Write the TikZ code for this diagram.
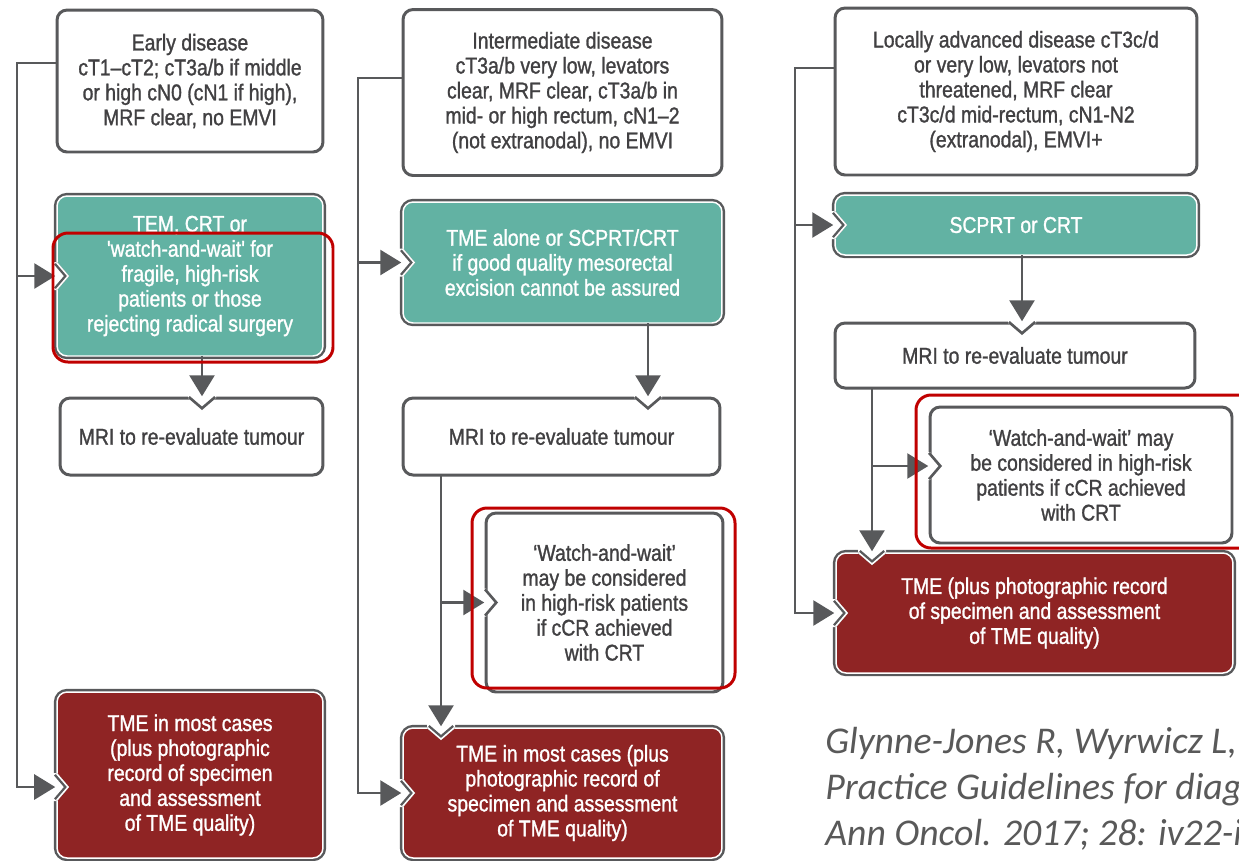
\documentclass[tikz,border=0pt]{standalone}
\usepackage{fontspec}
\setmainfont{Liberation Sans}[FakeStretch=0.85, FakeBold=1.2, Ligatures=TeXOff]
\newfontfamily\reffont{Carlito}
\usepackage{tikz}
\usetikzlibrary{arrows.meta,calc}

\definecolor{boxline}{HTML}{58595B}
\definecolor{boxtext}{HTML}{414042}
\definecolor{tmteal}{HTML}{62B2A3}
\definecolor{tmred}{HTML}{8F2424}
\definecolor{hlred}{HTML}{C00000}
\definecolor{refgrey}{HTML}{595959}

\tikzset{
  flowbox/.style={rectangle, rounded corners=0.2cm, inner sep=0pt, outer sep=0pt, align=center,
    font=\fontsize{13pt}{14.2pt}\selectfont},
  plainbox/.style={flowbox, draw=boxline, line width=1.7pt, fill=white, text=boxtext},
  tealbox/.style={flowbox, fill=tmteal, draw=white, line width=0.85pt,
    preaction={draw=boxline, line width=3.6pt}, text=white},
  redbox/.style={tealbox, fill=tmred},
  wnotch/.style={draw=boxline, line width=3pt},
  cnotch/.style={draw=white, line width=1.7pt, preaction={draw=boxline, line width=4.4pt}},
  trunk/.style={draw=boxline, line width=1.5pt},
  flowarrow/.style={trunk, -{Triangle[length=0.42cm, width=0.5cm]}, shorten >=1pt},
  hlbox/.style={draw=hlred, line width=1.7pt, rounded corners=0.3cm},
  reftext/.style={anchor=base west, inner sep=0pt, text=refgrey,
    font=\reffont\itshape\fontsize{21.5pt}{26pt}\selectfont}
}

% notch on the left side of a box, #2 is the point on the border
\newcommand{\notchleft}[2]{%
  \fill[white] ($(#2)+(-5,-14)$) -- ($(#2)+(0,-14)$) -- ($(#2)+(12,0)$) -- ($(#2)+(0,14)$) -- ($(#2)+(-5,14)$) -- cycle;
  \begin{scope}
    \clip ($(#2)+(-5,-14)$) -- ($(#2)+(0,-14)$) -- ($(#2)+(12,0)$) -- ($(#2)+(0,14)$) -- ($(#2)+(-5,14)$) -- cycle;
    \draw[#1] ($(#2)+(0,-14)$) -- ($(#2)+(12,0)$) -- ($(#2)+(0,14)$);
  \end{scope}}
% notch on the top side of a box
\newcommand{\notchtop}[2]{%
  \fill[white] ($(#2)+(-14,-5)$) -- ($(#2)+(-14,0)$) -- ($(#2)+(0,12)$) -- ($(#2)+(14,0)$) -- ($(#2)+(14,-5)$) -- cycle;
  \begin{scope}
    \clip ($(#2)+(-14,-5)$) -- ($(#2)+(-14,0)$) -- ($(#2)+(0,12)$) -- ($(#2)+(14,0)$) -- ($(#2)+(14,-5)$) -- cycle;
    \draw[#1] ($(#2)+(-14,0)$) -- ($(#2)+(0,12)$) -- ($(#2)+(14,0)$);
  \end{scope}}

\begin{document}
\begin{tikzpicture}[x=0.02cm, y=-0.02cm]
\useasboundingbox (0,0) rectangle (1239,860);
\clip (0,0) rectangle (1239,860);

% early disease
\node[plainbox, minimum width=5.32cm, minimum height=2.84cm] (A1) at (190,81)
  {Early disease\\cT1–cT2; cT3a/b if middle\\or high cN0 (cN1 if high),\\MRF clear, no EMVI};
\node[tealbox, minimum width=5.32cm, minimum height=3.2cm] (A2) at (190,276)
  {TEM, CRT or\\'watch-and-wait' for\\fragile, high-risk\\patients or those\\rejecting radical surgery};
\node[plainbox, minimum width=5.26cm, minimum height=1.54cm] (A3) at (191.5,436.5)
  {MRI to re-evaluate tumour};
\node[redbox, minimum width=5.32cm, minimum height=3.32cm] (A4) at (190,775)
  {TME in most cases\\(plus photographic\\record of specimen\\and assessment\\of TME quality)};

% intermediate disease
\node[plainbox, minimum width=6.38cm, minimum height=3.32cm] (B1) at (562.5,92.5)
  {Intermediate disease\\cT3a/b very low, levators\\clear, MRF clear, cT3a/b in\\mid- or high rectum, cN1–2\\(not extranodal), no EMVI};
\node[tealbox, minimum width=6.38cm, minimum height=2.42cm] (B2) at (562.5,262.5)
  {TME alone or SCPRT/CRT\\if good quality mesorectal\\excision cannot be assured};
\node[plainbox, minimum width=6.34cm, minimum height=1.54cm] (B3) at (561.5,436.5)
  {MRI to re-evaluate tumour};
\node[plainbox, minimum width=4.74cm, minimum height=3.58cm] (B4) at (604.5,602.5)
  {‘Watch-and-wait’\\may be considered\\in high-risk patients\\if cCR achieved\\with CRT};
\node[redbox, minimum width=6.38cm, minimum height=2.6cm] (B5) at (562.5,793)
  {TME in most cases (plus\\photographic record of\\specimen and assessment\\of TME quality)};

% locally advanced disease
\node[plainbox, minimum width=7.24cm, minimum height=3.34cm] (C1) at (1016,91.5)
  {Locally advanced disease cT3c/d\\or very low, levators not\\threatened, MRF clear\\cT3c/d mid-rectum, cN1-N2\\(extranodal), EMVI+};
\node[tealbox, minimum width=7.24cm, minimum height=1.2cm] (C2) at (1016,225)
  {SCPRT or CRT};
\node[plainbox, minimum width=7.2cm, minimum height=1.3cm] (C3) at (1015,355.5)
  {MRI to re-evaluate tumour};
\node[plainbox, minimum width=6.04cm, minimum height=2.72cm] (C4) at (1081,475)
  {‘Watch-and-wait’ may\\be considered in high-risk\\patients if cCR achieved\\with CRT};
\node[redbox, minimum width=7.94cm, minimum height=2.4cm] (C5) at (1034.5,613)
  {TME (plus photographic record\\of specimen and assessment\\of TME quality)};

\coordinate (trA) at (17,63);
\coordinate (inA4) at (57,787);
\coordinate (xA) at (202,0);
\coordinate (nA3) at (xA |- A3.north);
\coordinate (trB) at (358,78);
\coordinate (xB) at (648,0);
\coordinate (nB3) at (xB |- B3.north);
\coordinate (dropB) at (441,0);
\coordinate (nB5) at (dropB |- B5.north);
\coordinate (trC) at (795,68);
\coordinate (xC) at (1022,0);
\coordinate (nC3) at (xC |- C3.north);
\coordinate (dropC) at (872,0);
\coordinate (nC5) at (dropC |- C5.north);
\coordinate (inC4) at (930,466);

\notchleft{cnotch}{A2.west}
\notchtop{wnotch}{nA3}
\notchleft{cnotch}{inA4}
\notchleft{cnotch}{B2.west}
\notchtop{wnotch}{nB3}
\notchleft{wnotch}{B4.west}
\notchtop{cnotch}{nB5}
\notchleft{cnotch}{B5.west}
\notchleft{cnotch}{C2.west}
\notchtop{wnotch}{nC3}
\notchleft{wnotch}{inC4}
\notchtop{cnotch}{nC5}
\notchleft{cnotch}{C5.west}

\draw[flowarrow] (A1.west |- trA) -- (trA) |- (inA4);
\draw[flowarrow] (trA |- A2.west) -- (A2.west);
\draw[flowarrow] (xA |- A2.south) -- (nA3);

\draw[flowarrow] (B1.west |- trB) -- (trB) |- (B5.west);
\draw[flowarrow] (trB |- B2.west) -- (B2.west);
\draw[flowarrow] (xB |- B2.south) -- (nB3);
\draw[flowarrow] (dropB |- B3.south) -- (nB5);
\draw[flowarrow] (dropB |- B4.west) -- (B4.west);

\draw[flowarrow] (C1.west |- trC) -- (trC) |- (C5.west);
\draw[flowarrow] (trC |- C2.west) -- (C2.west);
\draw[flowarrow] (xC |- C2.south) -- (nC3);
\draw[flowarrow] (dropC |- C3.south) -- (nC5);
\draw[flowarrow] (dropC |- inC4) -- (inC4);

% red marks
\draw[hlbox] (53,233) rectangle (333,362);
\draw[hlbox] (472,508) rectangle (735,688);
\draw[hlbox] (916,395) rectangle (1260,548);

\node[reftext] (ref1) at (825,753) {Glynne-Jones R, Wyrwicz L,};
\node[reftext] (ref2) at (825,799) {Practice Guidelines for diagnosis,};
\node[reftext] (ref3) at (825,845) {Ann Oncol. 2017; 28: iv22-iv40.};
\end{tikzpicture}
\end{document}
